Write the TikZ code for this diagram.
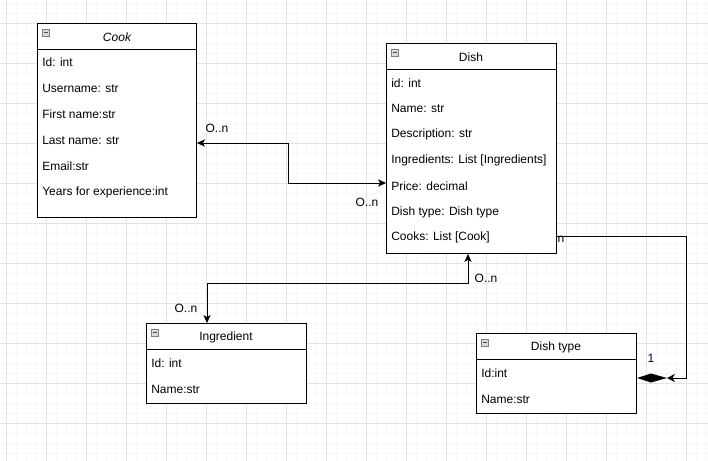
\documentclass[tikz,border=0pt]{standalone}
\usepackage{fontspec}
\setmainfont{Liberation Sans}
\usetikzlibrary{arrows.meta}
\begin{document}
\begin{tikzpicture}[x=0.75pt,y=-0.75pt,
  gminor/.style={draw=black!3,line width=0.75pt},
  gmajor/.style={draw=black!11,line width=0.75pt},
  umlbox/.style={draw=black,line width=0.75pt,anchor=north west,inner sep=0pt,fill=white},
  attr/.style={anchor=west,inner sep=0pt,font=\fontsize{9pt}{10.5pt}\selectfont},
  ttl/.style={inner sep=0pt,font=\fontsize{9pt}{10.5pt}\selectfont},
  lbl/.style={inner sep=0pt,font=\fontsize{9pt}{10.5pt}\selectfont},
  conn/.style={line width=0.75pt,draw=black},
  minusicon/.style={draw=black!50,fill=black!15,line width=0.6pt}
]
\useasboundingbox (0,0) rectangle (708,461);
\fill[white] (0,0) rectangle (708,461);
% grid
\foreach \x in {6,16,...,706} \draw[gminor] (\x,0) -- (\x,461);
\foreach \y in {3,13,...,461} \draw[gminor] (0,\y) -- (708,\y);
\foreach \x in {6,46,...,706} \draw[gmajor] (\x,0) -- (\x,461);
\foreach \y in {23,63,...,461} \draw[gmajor] (0,\y) -- (708,\y);

% Cook
\node[umlbox,minimum width={159*0.75pt},minimum height={194*0.75pt}] (cook) at (37,23) {};
\draw[line width=0.75pt] (37,49) -- (196,49);
\draw[minusicon] (42,29) rectangle (49,36);
\draw[black!70,line width=0.8pt] (43.5,32.5) -- (47.5,32.5);
\node[ttl,font=\fontsize{9pt}{10.5pt}\selectfont\itshape] (cookt) at (117,37) {Cook};
\node[attr] (cook1) at (42,62) {Id: int};
\node[attr] (cook2) at (42,88) {Username: str};
\node[attr] (cook3) at (42,114) {First name:str};
\node[attr] (cook4) at (42,140) {Last name: str};
\node[attr] (cook5) at (42,166) {Email:str};
\node[attr] (cook6) at (42,192) {Years for experience:int};

% Dish
\node[umlbox,minimum width={170*0.75pt},minimum height={210*0.75pt}] (dish) at (386,43) {};
\draw[line width=0.75pt] (386,69) -- (556,69);
\draw[minusicon] (391,49) rectangle (398,56);
\draw[black!70,line width=0.8pt] (392.5,52.5) -- (396.5,52.5);
\node[ttl] (disht) at (471,57) {Dish};
\node[attr] (dish1) at (391,83) {id: int};
\node[attr] (dish2) at (391,108) {Name: str};
\node[attr] (dish3) at (391,134) {Description: str};
\node[attr] (dish4) at (391,160) {Ingredients: List [Ingredients]};
\node[attr] (dish5) at (391,186) {Price: decimal};
\node[attr] (dish6) at (391,212) {Dish type: Dish type};
\node[attr] (dish7) at (391,237) {Cooks: List [Cook]};

% Ingredient
\node[umlbox,minimum width={160*0.75pt},minimum height={80*0.75pt}] (ing) at (146,323) {};
\draw[line width=0.75pt] (146,349) -- (306,349);
\draw[minusicon] (151,329) rectangle (158,336);
\draw[black!70,line width=0.8pt] (152.5,332.5) -- (156.5,332.5);
\node[ttl] (ingt) at (226,337) {Ingredient};
\node[attr] (ing1) at (151,363) {Id: int};
\node[attr] (ing2) at (151,389) {Name:str};

% Dish type
\node[umlbox,minimum width={160*0.75pt},minimum height={80*0.75pt}] (dt) at (476,333) {};
\draw[line width=0.75pt] (476,359) -- (636,359);
\draw[minusicon] (481,339) rectangle (488,346);
\draw[black!70,line width=0.8pt] (482.5,342.5) -- (486.5,342.5);
\node[ttl] (dtt) at (556,347) {Dish type};
\node[attr] (dt1) at (481,373) {Id:int};
\node[attr] (dt2) at (481,399) {Name:str};

% connectors
\draw[conn,{Stealth[length=6pt,width=5.5pt,inset=1.6pt]}-{Stealth[length=6pt,width=5.5pt,inset=1.6pt]}]
  (cook.east |- 0,143) -- (288,143) -- (288,183) -- (dish.west |- 0,183);
\draw[conn,{Stealth[length=6pt,width=5.5pt,inset=1.6pt]}-{Stealth[length=6pt,width=5.5pt,inset=1.6pt]}]
  (ing.north -| 207,0) -- (207,283) -- (468,283) -- (dish.south -| 468,0);
\coordinate (dtend) at (667,378);
\draw[conn,-{Stealth[length=6pt,width=6pt,inset=2pt]}]
  (dish.east |- 0,236) -- (686,236) -- (686,378) -- (dtend);
\fill[black] (dt.east |- 0,378) -- (651,373.5) -- (dtend) -- (651,382.5) -- cycle;

% labels
\node[lbl] (l1) at (217,128) {O..n};
\node[lbl] (l2) at (367,202) {O..n};
\node[lbl] (l3) at (486,278) {O..n};
\node[lbl] (l4) at (186,308) {O..n};
\node[lbl] (l5) at (561,239) {n};
\node[lbl,text=blue!30!black] (l6) at (651,358) {1};
\end{tikzpicture}
\end{document}
